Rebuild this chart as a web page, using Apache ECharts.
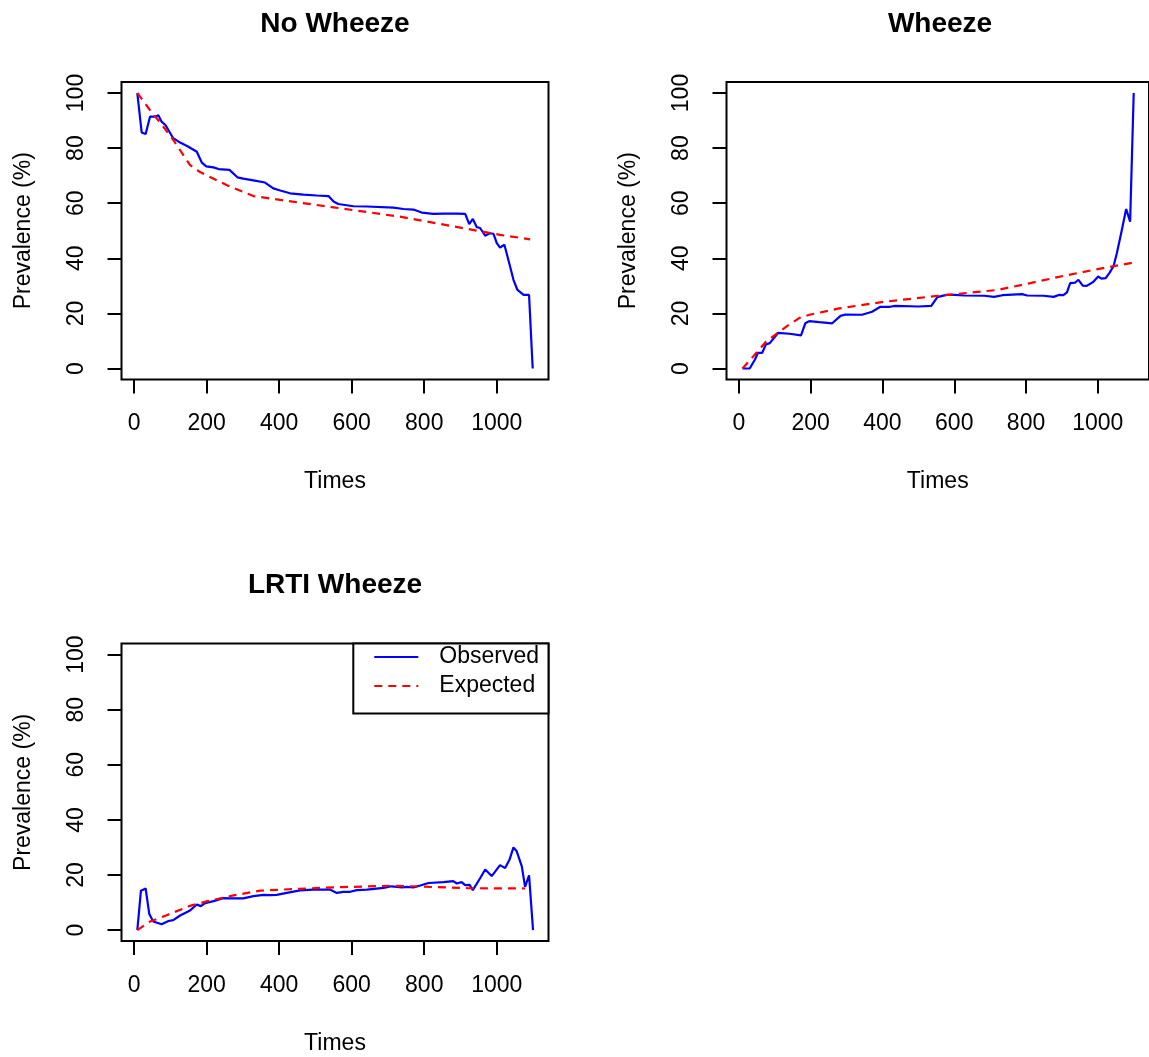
<!DOCTYPE html>
<html>
<head>
<meta charset="utf-8">
<script src="https://cdn.jsdelivr.net/npm/echarts@6/dist/echarts.min.js"></script>
<style>
html,body{margin:0;padding:0;background:#fff;}
#chart{width:1149px;height:1057px;}
</style>
</head>
<body>
<div id="chart"></div>
<script>
// ---- Data ----
const panelTitles = ['No Wheeze', 'Wheeze', 'LRTI Wheeze'];
const xTicks = [0, 200, 400, 600, 800, 1000];
const yTicks = [0, 20, 40, 60, 80, 100];

const noWheezeObsT = [9,21,32,44,58,67,76,87,108,127,150,173,187,199,219,233,263,285,301,329,361,384,403,430,467,504,536,550,563,605,642,715,743,770,793,825,853,890,913,924,934,945,954,968,980,991,1000,1009,1021,1032,1046,1057,1074,1089,1099];
const noWheezeObsV = [100,85.7,85.1,91.4,91.4,91.9,89.6,88.3,83.6,82,80.5,78.7,74.7,73.4,73,72.4,72.1,69.4,68.9,68.3,67.5,65.4,64.6,63.6,63.1,62.8,62.6,60.6,59.7,58.9,58.8,58.4,57.9,57.7,56.6,56.1,56.2,56.2,56.1,52.4,54.3,51.3,51,48.2,49.1,48.9,45.5,43.9,44.9,39.4,32.2,28.5,26.7,26.7,0];
const noWheezeExpT = [9,44,76,108,154,182,255,329,403,550,733,917,1009,1092];
const noWheezeExpV = [100,93.8,88.6,83,73.9,71.3,66.6,62.6,61.2,58.5,55.1,50.7,48.5,46.9];

const wheezeObsT = [10,30,44,53,65,75,86,109,141,173,185,196,224,260,283,297,343,371,394,421,435,500,536,553,578,601,628,684,711,734,789,803,849,877,891,904,914,923,937,946,958,969,987,1001,1010,1022,1033,1044,1053,1065,1079,1090,1100];
const wheezeObsV = [0,0,3.1,5.7,5.7,8.7,9.2,12.9,12.6,12,16.4,17.2,16.8,16.4,19.1,19.6,19.5,20.6,22.4,22.4,22.7,22.5,22.7,25.9,26.7,26.7,26.5,26.4,26,26.6,27,26.5,26.4,26,26.7,26.6,27.6,31,31.2,32.2,30.1,30,31.4,33.4,32.6,32.8,34.8,37.2,41.8,49.1,57.9,53.3,100];
const wheezeExpT = [10,40,76,132,168,196,279,398,555,720,812,904,996,1102];
const wheezeExpV = [0,4.4,9.8,15.2,18.3,19.5,21.8,24.1,26.4,28.5,31,33.6,36,38.5];

const lrtiObsT = [9,19,32,42,53,76,95,108,127,153,173,184,196,219,246,265,301,329,357,375,393,421,458,494,540,559,577,596,614,642,688,710,738,752,770,789,812,853,880,890,903,913,925,934,954,968,986,1009,1023,1035,1046,1055,1069,1078,1089,1100];
const lrtiObsV = [0,14.3,15.1,5.8,3.1,2.1,3.3,3.6,5.3,7,9.3,8.7,9.8,10.5,11.6,11.5,11.5,12.3,12.8,12.7,12.8,13.5,14.4,14.7,14.7,13.5,13.9,13.9,14.5,14.7,15.3,15.9,15.5,15.7,15.5,16.2,17.1,17.4,17.8,16.9,17.4,16.3,16.4,14.5,18.8,22,19.6,23.6,22.5,25.5,30,28.6,23.1,15.7,19.9,0];
const lrtiExpT = [9,44,90,154,200,274,347,439,550,708,789,917,1078];
const lrtiExpV = [0,3.1,5.4,8.8,10.4,12.6,14.3,14.9,15.5,16.1,15.8,15.2,15.1];

// ---- Build chart ----
const FONT = 'Liberation Sans, Arial, Helvetica, sans-serif';
const zip = (t, v) => t.map((x, i) => [x, v[i]]);
const obs = [zip(noWheezeObsT, noWheezeObsV), zip(wheezeObsT, wheezeObsV), zip(lrtiObsT, lrtiObsV)];
const exp = [zip(noWheezeExpT, noWheezeExpV), zip(wheezeExpT, wheezeExpV), zip(lrtiExpT, lrtiExpV)];

const W = 427, H = 297.5;
const grids = [
  {left: 121.5, top: 82},
  {left: 726.5, top: 82},
  {left: 121.5, top: 643.6}
];

const option = {
  animation: false,
  backgroundColor: '#fff',
  grid: grids.map(g => ({left: g.left, top: g.top, width: W, height: H, show: true,
    borderColor: '#000', borderWidth: 2, backgroundColor: 'transparent', containLabel: false})),
  xAxis: grids.map((g, i) => ({
    gridIndex: i, type: 'value', min: -34.6, max: 1142.6, position: 'bottom',
    splitLine: {show: false}, axisLine: {show: false, onZero: false},
    axisTick: {show: true, length: 14, inside: false, customValues: xTicks, lineStyle: {color: '#000', width: 2}},
    axisLabel: {customValues: xTicks, margin: 33, fontSize: 23, color: '#000', fontFamily: FONT, hideOverlap: false,
      formatter: v => String(v)},
    name: 'Times', nameLocation: 'middle', nameGap: 91,
    nameTextStyle: {fontSize: 23, color: '#000', fontFamily: FONT}
  })),
  yAxis: grids.map((g, i) => ({
    gridIndex: i, type: 'value', min: -4, max: 104, position: 'left',
    splitLine: {show: false}, axisLine: {show: false, onZero: false},
    axisTick: {show: true, length: 14, inside: false, customValues: yTicks, lineStyle: {color: '#000', width: 2}},
    axisLabel: {customValues: yTicks, margin: 33, rotate: 90, fontSize: 23, color: '#000', fontFamily: FONT, hideOverlap: false,
      formatter: v => String(v)},
    name: 'Prevalence (%)', nameLocation: 'middle', nameGap: 86,
    nameTextStyle: {fontSize: 23, color: '#000', fontFamily: FONT}
  })),
  legend: {
    data: ['Observed', 'Expected'],
    orient: 'vertical',
    left: 353.3, top: 643.6,
    padding: [2, 9.5, 16, 20],
    itemWidth: 44, itemHeight: 14, itemGap: 6,
    borderColor: '#000', borderWidth: 2, backgroundColor: '#fff', borderRadius: 0,
    selectedMode: false,
    itemStyle: {opacity: 0, borderWidth: 0},
    textStyle: {fontSize: 23, color: '#000', fontFamily: FONT, padding: [0, 0, 0, 16]}
  },
  graphic: panelTitles.map((t, i) => ({
    type: 'text', x: grids[i].left + W / 2, y: grids[i].top - 58,
    style: {text: t, align: 'center', verticalAlign: 'middle', fontSize: 28, fontWeight: 'bold', fontFamily: FONT, fill: '#000'}
  })),
  series: []
};

for (let i = 0; i < 3; i++) {
  option.series.push({
    name: 'Observed', type: 'line', xAxisIndex: i, yAxisIndex: i, data: obs[i],
    symbol: 'none', lineStyle: {color: '#0000FF', width: 2.2, type: 'solid'}, itemStyle: {color: '#0000FF'}
  });
  option.series.push({
    name: 'Expected', type: 'line', xAxisIndex: i, yAxisIndex: i, data: exp[i],
    symbol: 'none', lineStyle: {color: '#FF0000', width: 2.2, type: [8, 6]}, itemStyle: {color: '#FF0000'}
  });
}

const chart = echarts.init(document.getElementById('chart'), null, {renderer: 'canvas'});
chart.setOption(option);
</script>
</body>
</html>
